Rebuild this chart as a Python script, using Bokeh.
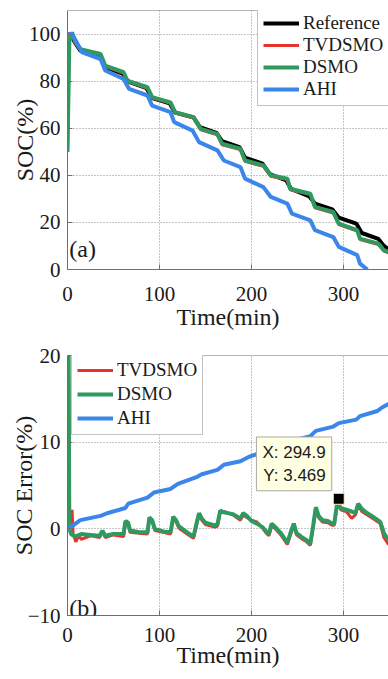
from bokeh.plotting import figure
from bokeh.layouts import column
from bokeh.models import Range1d, Legend, LegendItem, Label, Span, FixedTicker
from bokeh.embed import file_html
from bokeh.resources import INLINE

# ---------------- Panel (a): SOC (%) ----------------
ref_t = [0, 4, 8, 14, 35, 41, 60, 66, 86, 92, 111, 117, 137, 144, 162, 168, 187, 193,
         212, 220, 238, 243, 263, 269, 288, 295, 314, 320, 338, 344, 349, 355]
ref_soc = [100, 99.3, 96.5, 93, 90.6, 86, 83.2, 79.8, 77, 72.8, 70.6, 66.6, 64.6, 60.5,
           58, 54.5, 52, 47.5, 45, 40.5, 37.8, 34.2, 31, 28, 25.5, 22, 19.5, 15.5, 13,
           10, 8.5, 8]

tvd_t = [0, 2, 5, 8, 14, 36, 41, 61, 65, 87, 92, 112, 117, 137, 145, 163, 168, 188,
         193, 213, 221, 239, 242, 264, 269, 289, 295, 315, 318, 338, 344, 349, 355]
tvd_soc = [50, 97, 100.3, 96.4, 93.2, 91.1, 86.2, 83.4, 79.8, 77.0, 72.8, 70.6, 66.4,
           64.3, 59.3, 57.2, 53.0, 50.9, 45.9, 43.8, 39.6, 38.2, 33.9, 31.8, 26.2,
           24.0, 19.1, 16.3, 12.7, 10.6, 7.8, 7.1, 6.6]

dsmo_t = [0, 2, 5, 8, 14, 36, 41, 61, 65, 87, 92, 112, 117, 137, 145, 163, 168, 188,
          193, 213, 221, 239, 242, 264, 269, 289, 295, 315, 318, 338, 344, 349, 355]
dsmo_soc = [50, 97, 100.7, 97, 93.6, 91.5, 86.6, 83.8, 80.2, 77.4, 73.2, 71, 66.8,
            64.7, 59.7, 57.6, 53.4, 51.3, 46.3, 44.2, 40, 38.6, 34.3, 32.2, 26.6,
            24.4, 19.5, 16.7, 13.1, 11, 8.2, 7.5, 7]

ahi_t = [0, 5, 12, 16, 36, 41, 61, 67, 87, 92, 112, 116, 136, 143, 163, 170, 188,
         193, 213, 221, 239, 244, 264, 269, 289, 295, 315, 318, 326]
ahi_soc = [100, 100, 95, 92.2, 89.4, 84.5, 80.9, 76.7, 73.9, 69.6, 66.8, 62.6, 59,
           54.1, 50.6, 46.3, 43.5, 38.6, 35, 30.8, 28, 23.7, 20.9, 16.7, 13.8, 9.6,
           6.1, 2.5, 0]

# ---------------- Panel (b): SOC error (%) ----------------
err_dsmo_t = [0, 2, 4, 8, 15, 25, 35, 38, 41, 50, 61, 63, 66, 68, 78, 87, 89, 92, 95,
              104, 112, 115, 118, 121, 130, 137, 140, 143, 146, 150, 160, 163, 166,
              170, 180, 188, 191, 195, 200, 206, 212, 216, 219, 222, 226, 232, 239,
              243, 246, 249, 254, 260, 264, 267, 270, 273, 277, 283, 288, 290, 293,
              297, 303, 309, 313, 316, 320, 326, 332, 340, 342, 344, 349, 355]
err_dsmo = [50, 0, -0.6, -0.9, -0.6, -0.7, -0.8, -0.2, -0.8, -0.6, -0.6, 0.9, 0.7,
            -0.2, -0.4, -0.4, 1.3, 1.0, 0.0, -0.3, -0.4, 1.4, 1.0, 0.3, -0.4, -0.9,
            0.5, 1.8, 1.2, 0.7, 0.4, 0.5, 2.1, 1.9, 1.7, 1.2, 1.8, 1.5, 0.9, 0.6, 0.2,
            -0.3, -0.6, 0.6, 0.2, -0.5, -1.6, -0.3, 0.6, -0.5, -0.9, -1.3, -1.7, 0.3,
            2.5, 1.5, 1.0, 0.9, 0.6, 0.6, 2.8, 2.4, 2.2, 2.0, 1.8, 2.9, 2.3, 1.8, 1.4,
            0.8, 0.2, -0.5, -1.3, -1.5]

err_tvd_t = [0, 2, 5, 6, 9, 12, 15, 25, 35, 38, 41, 50, 61, 63, 66, 68, 78, 87, 89,
             92, 95, 104, 112, 115, 118, 121, 130, 137, 140, 143, 146, 150, 160, 163,
             166, 170, 180, 188, 191, 195, 200, 206, 212, 216, 219, 222, 226, 232,
             239, 243, 246, 249, 254, 260, 264, 267, 270, 273, 277, 283, 288, 290,
             293, 295, 297, 303, 309, 313, 316, 320, 326, 332, 340, 342, 344, 349,
             355]
err_tvd = [50, 0.5, 2.2, -0.5, -1.5, -0.8, -1.2, -0.8, -1.0, -0.3, -1.0, -0.7, -0.9,
           0.7, 0.5, -0.4, -0.5, -0.6, 1.1, 0.8, -0.2, -0.4, -0.6, 1.2, 0.8, 0.1,
           -0.6, -1.1, 0.3, 1.6, 1.0, 0.5, 0.2, 0.3, 1.9, 2.0, 1.6, 1.0, 1.6, 1.3,
           1.0, 0.8, 0.1, -0.5, -0.8, 0.4, 0.0, -0.7, -1.8, -0.5, 0.4, -0.7, -1.1,
           -1.5, -1.9, 0.1, 2.3, 1.3, 0.8, 0.7, 0.4, 0.4, 2.6, 3.469, 2.2, 2.0, 1.2,
           1.6, 2.7, 2.0, 1.6, 1.2, 0.6, -0.2, -1.0, -1.8, -2.0]

err_ahi_t = [0, 5, 14, 36, 43, 63, 66, 87, 94, 112, 120, 141, 146, 163, 170, 188, 197,
             213, 221, 239, 246, 264, 270, 289, 295, 314, 318, 337, 342, 349, 355]
err_ahi = [0, 0.3, 1.0, 1.5, 1.8, 2.4, 2.9, 3.6, 4.2, 4.6, 5.2, 6.0, 6.3, 6.8, 7.4,
           7.8, 8.3, 8.9, 9.3, 9.8, 10.2, 10.7, 11.3, 11.8, 12.2, 12.6, 13.0, 13.6,
           14.0, 14.4, 14.6]

tip_x = 294.9
tip_y = 3.469

x_ticks = [0, 100, 200, 300]
soc_ticks = [0, 20, 40, 60, 80, 100]
err_ticks = [-10, 0, 10, 20]

C_REF = "#000000"
C_TVD = "#e8332f"
C_DSMO = "#2e9a5f"
C_AHI = "#3a86ea"
AX = "#6e6e6e"
SERIF = "Liberation Serif"


def style(p, yticks, ylabel, xstand, xlabstand):
    p.outline_line_color = None
    p.background_fill_color = "white"
    p.border_fill_color = "white"
    for ax in (p.xaxis[0], p.yaxis[0]):
        ax.axis_line_color = AX
        ax.major_tick_line_color = AX
        ax.major_tick_in = 5
        ax.major_tick_out = 0
        ax.minor_tick_line_color = None
        ax.major_label_text_font = SERIF
        ax.major_label_text_font_size = "21px"
        ax.major_label_text_color = "#1a1a1a"
        ax.axis_label_text_font = SERIF
        ax.axis_label_text_font_size = "24px"
        ax.axis_label_text_font_style = "normal"
        ax.axis_label_text_color = "#1a1a1a"
    p.xaxis[0].ticker = FixedTicker(ticks=x_ticks)
    p.yaxis[0].ticker = FixedTicker(ticks=yticks)
    p.xaxis[0].axis_label = "Time(min)"
    p.yaxis[0].axis_label = ylabel
    p.xaxis[0].major_label_standoff = xstand
    p.xaxis[0].axis_label_standoff = xlabstand
    p.yaxis[0].major_label_standoff = 7
    p.yaxis[0].axis_label_standoff = -12
    for g in (p.xgrid[0], p.ygrid[0]):
        g.grid_line_color = "#8a8a8a"
        g.grid_line_dash = "1 2"
        g.grid_line_width = 1
    p.xgrid[0].ticker = FixedTicker(ticks=x_ticks)
    p.ygrid[0].ticker = FixedTicker(ticks=yticks)


# ---------- figure (a) ----------
pa = figure(width=388, height=340, output_backend="svg", toolbar_location=None,
            x_range=Range1d(0, 349), y_range=Range1d(0, 110),
            min_border_left=67, min_border_right=0, min_border_top=10,
            min_border_bottom=71)
style(pa, soc_ticks, "SOC(%)", 17, 0)
pa.add_layout(Span(location=110, dimension="width", line_color=AX, line_width=1))

r_ref = pa.line(ref_t, ref_soc, line_color=C_REF, line_width=4)
r_tvd = pa.line(tvd_t, tvd_soc, line_color=C_TVD, line_width=3)
r_dsmo = pa.line(dsmo_t, dsmo_soc, line_color=C_DSMO, line_width=4)
r_ahi = pa.line(ahi_t, ahi_soc, line_color=C_AHI, line_width=4)

leg_a = Legend(items=[LegendItem(label="Reference", renderers=[r_ref]),
                      LegendItem(label="TVDSMO", renderers=[r_tvd]),
                      LegendItem(label="DSMO", renderers=[r_dsmo]),
                      LegendItem(label="AHI", renderers=[r_ahi])],
               location=(190, 163), spacing=0)
pa.add_layout(leg_a)

pa.add_layout(Label(x=2, y=8.9, text="(a)", text_font=SERIF, text_font_size="24px",
                    text_align="left", text_baseline="middle", text_color="#1a1a1a"))

# ---------- figure (b) ----------
pb = figure(width=388, height=339, output_backend="svg", toolbar_location=None,
            x_range=Range1d(0, 349), y_range=Range1d(-10, 20),
            min_border_left=67, min_border_right=0, min_border_top=15,
            min_border_bottom=64)
style(pb, err_ticks, "SOC Error(%)", 12, -3)
pb.add_layout(Span(location=20, dimension="width", line_color=AX, line_width=1))

e_tvd = pb.line(err_tvd_t, err_tvd, line_color=C_TVD, line_width=3)
e_dsmo = pb.line(err_dsmo_t, err_dsmo, line_color=C_DSMO, line_width=4)
e_ahi = pb.line(err_ahi_t, err_ahi, line_color=C_AHI, line_width=4)

pb.scatter([tip_x], [tip_y], marker="square", size=11, fill_color="black",
           line_color="#fff6cc", line_width=1)

pb.add_layout(Label(x=tip_x, y=tip_y, text="X: %s\nY: %s" % (tip_x, tip_y),
                    x_offset=-7, y_offset=8, text_align="right",
                    text_baseline="bottom", text_font="Liberation Sans",
                    text_font_size="17px", text_color="#1a1a1a",
                    background_fill_color="#ffffe1", border_line_color="#a8a8a8",
                    padding=6))

leg_b = Legend(items=[LegendItem(label="TVDSMO", renderers=[e_tvd]),
                      LegendItem(label="DSMO", renderers=[e_dsmo]),
                      LegendItem(label="AHI", renderers=[e_ahi])],
               location=(4, 180), spacing=2)
pb.add_layout(leg_b)

pb.add_layout(Label(x=2, y=-9.1, text="(b)", text_font=SERIF, text_font_size="24px",
                    text_align="left", text_baseline="middle", text_color="#1a1a1a"))

for leg in (leg_a, leg_b):
    leg.label_text_font = SERIF
    leg.label_text_font_size = "19px"
    leg.label_text_color = "#1a1a1a"
    leg.glyph_width = 36
    leg.glyph_height = 18
    leg.label_height = 18
    leg.label_standoff = 4
    leg.padding = 5
    leg.margin = 0
    leg.border_line_color = "#888888"
    leg.border_line_width = 1
    leg.background_fill_color = "white"
    leg.background_fill_alpha = 1

layout = column(pa, pb, spacing=0)
open("out.html", "w").write(file_html(layout, INLINE))
